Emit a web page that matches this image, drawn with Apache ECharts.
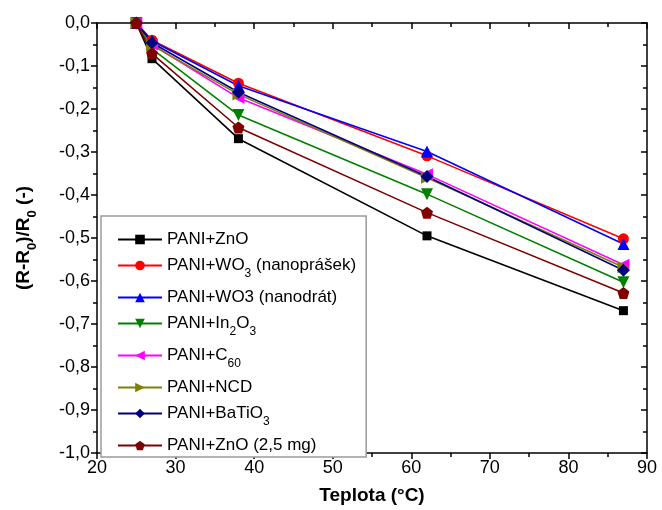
<!DOCTYPE html>
<html>
<head>
<meta charset="utf-8">
<script src="https://cdn.jsdelivr.net/npm/echarts@6/dist/echarts.min.js"></script>
<style>
  html, body { margin: 0; padding: 0; background: #fff; }
  #chart { width: 662px; height: 510px; }
</style>
</head>
<body>
<div id="chart"></div>
<script>
// Temperatures (°C) at which the relative resistance change was measured
const temperatures = [25, 27, 38, 62, 87];

// Relative resistance change (R-R0)/R0 for each PANI composite
const pani_ZnO        = [0, -0.083, -0.269, -0.495, -0.669];
const pani_WO3_powder = [0, -0.040, -0.140, -0.309, -0.502];
const pani_WO3_wire   = [0, -0.042, -0.146, -0.299, -0.514];
const pani_In2O3      = [0, -0.060, -0.214, -0.398, -0.603];
const pani_C60        = [0, -0.050, -0.174, -0.352, -0.562];
const pani_NCD        = [0, -0.052, -0.166, -0.360, -0.568];
const pani_BaTiO3     = [0, -0.046, -0.161, -0.357, -0.575];
const pani_ZnO_25mg   = [0, -0.071, -0.243, -0.441, -0.628];

// Axis tick labels (decimal comma)
const xTickLabels = ['20', '30', '40', '50', '60', '70', '80', '90'];
const yTickLabels = ['0,0', '-0,1', '-0,2', '-0,3', '-0,4', '-0,5', '-0,6', '-0,7', '-0,8', '-0,9', '-1,0'];

const pentagon = 'path://M0,-10 L9.51,-3.09 L5.88,8.09 L-5.88,8.09 L-9.51,-3.09 Z';

const seriesDefs = [
  { name: 'PANI+ZnO',              data: pani_ZnO,        color: '#000000', symbol: 'rect',     rotate: 0,   size: 9,  label: 'PANI+ZnO' },
  { name: 'PANI+WO3 (nanoprášek)', data: pani_WO3_powder, color: '#FF0000', symbol: 'circle',   rotate: 0,   size: 11, label: 'PANI+WO{s|3} (nanoprášek)' },
  { name: 'PANI+WO3 (nanodrát)',   data: pani_WO3_wire,   color: '#0000FF', symbol: 'triangle', rotate: 0,   size: 12, label: 'PANI+WO3 (nanodrát)' },
  { name: 'PANI+In2O3',            data: pani_In2O3,      color: '#008000', symbol: 'triangle', rotate: 180, size: 12, label: 'PANI+In{s|2}O{s|3}' },
  { name: 'PANI+C60',              data: pani_C60,        color: '#FF00FF', symbol: 'triangle', rotate: 90,  size: 12, label: 'PANI+C{s|60}' },
  { name: 'PANI+NCD',              data: pani_NCD,        color: '#808000', symbol: 'triangle', rotate: -90, size: 12, label: 'PANI+NCD' },
  { name: 'PANI+BaTiO3',           data: pani_BaTiO3,     color: '#000080', symbol: 'diamond',  rotate: 0,   size: 13, label: 'PANI+BaTiO{s|3}' },
  { name: 'PANI+ZnO (2,5 mg)',     data: pani_ZnO_25mg,   color: '#800000', symbol: pentagon,   rotate: 0,   size: 12, label: 'PANI+ZnO (2,5 mg)' }
];

const labelMap = {};
seriesDefs.forEach(d => { labelMap[d.name] = d.label; });

const font = '"Liberation Sans", Arial, sans-serif';
const subRich = {
  s: { fontSize: 12, fontFamily: font, color: '#000', verticalAlign: 'bottom', lineHeight: 8, padding: [0, 0, -6, 0] }
};

const fmtX = v => xTickLabels[(v - 20) / 10] || '';
const fmtY = v => yTickLabels[Math.round(-v * 10)] || '';

const axisLineStyle = { color: '#000', width: 1.5 };

const chart = echarts.init(document.getElementById('chart'), null, { renderer: 'canvas' });

chart.setOption({
  animation: false,
  backgroundColor: '#ffffff',
  grid: { left: 97, right: 15, top: 23, bottom: 46, containLabel: false },
  xAxis: [
    {
      type: 'value', min: 20, max: 90, interval: 10, position: 'bottom',
      name: 'Teplota (°C)', nameLocation: 'middle', nameGap: 33,
      nameTextStyle: { fontFamily: font, fontSize: 19, fontWeight: 'bold', color: '#000' },
      axisLine: { show: true, onZero: false, lineStyle: axisLineStyle },
      axisTick: { show: true, inside: false, length: 6, lineStyle: axisLineStyle },
      minorTick: { show: true, splitNumber: 2, length: 4, lineStyle: axisLineStyle },
      axisLabel: { formatter: fmtX, fontFamily: font, fontSize: 18, color: '#000', margin: 6 },
      splitLine: { show: false }
    },
    {
      type: 'value', min: 20, max: 90, interval: 10, position: 'top',
      axisLine: { show: true, onZero: false, lineStyle: axisLineStyle },
      axisTick: { show: true, inside: true, length: 6, lineStyle: axisLineStyle },
      minorTick: { show: true, splitNumber: 2, length: 4, lineStyle: axisLineStyle },
      axisLabel: { show: false },
      splitLine: { show: false }
    }
  ],
  yAxis: [
    {
      type: 'value', min: -1, max: 0, interval: 0.1, position: 'left',
      name: '(R-R{s|0})/R{s|0} (-)', nameLocation: 'middle', nameGap: 64, nameRotate: 90,
      nameTextStyle: { fontFamily: font, fontSize: 19, fontWeight: 'bold', color: '#000',
        rich: { s: { fontSize: 13, fontWeight: 'bold', fontFamily: font, color: '#000', verticalAlign: 'bottom', lineHeight: 8, padding: [0, 0, -6, 0] } } },
      axisLine: { show: true, onZero: false, lineStyle: axisLineStyle },
      axisTick: { show: true, inside: false, length: 6, lineStyle: axisLineStyle },
      minorTick: { show: true, splitNumber: 2, length: 4, lineStyle: axisLineStyle },
      axisLabel: { formatter: fmtY, fontFamily: font, fontSize: 18, color: '#000', margin: 7 },
      splitLine: { show: false }
    },
    {
      type: 'value', min: -1, max: 0, interval: 0.1, position: 'right',
      axisLine: { show: true, onZero: false, lineStyle: axisLineStyle },
      axisTick: { show: true, inside: true, length: 6, lineStyle: axisLineStyle },
      minorTick: { show: true, splitNumber: 2, length: 4, lineStyle: axisLineStyle },
      axisLabel: { show: false },
      splitLine: { show: false }
    }
  ],
  legend: {
    orient: 'vertical',
    left: 101, top: 216,
    itemWidth: 44, itemHeight: 12, itemGap: 9,
    padding: [15, 10, 3, 16],
    borderColor: '#9a9a9a', borderWidth: 1.5, borderRadius: 0,
    backgroundColor: '#ffffff',
    symbolRotate: 'inherit',
    data: seriesDefs.map(d => d.name),
    formatter: name => labelMap[name],
    textStyle: { fontFamily: font, fontSize: 17, color: '#000', rich: subRich }
  },
  series: seriesDefs.map(d => ({
    name: d.name,
    type: 'line',
    xAxisIndex: 0, yAxisIndex: 0,
    data: temperatures.map((t, i) => [t, d.data[i]]),
    symbol: d.symbol,
    symbolSize: d.size,
    symbolRotate: d.rotate,
    showSymbol: true,
    color: d.color,
    lineStyle: { color: d.color, width: 1.6 },
    itemStyle: { color: d.color, borderWidth: 0 }
  }))
});
</script>
</body>
</html>
